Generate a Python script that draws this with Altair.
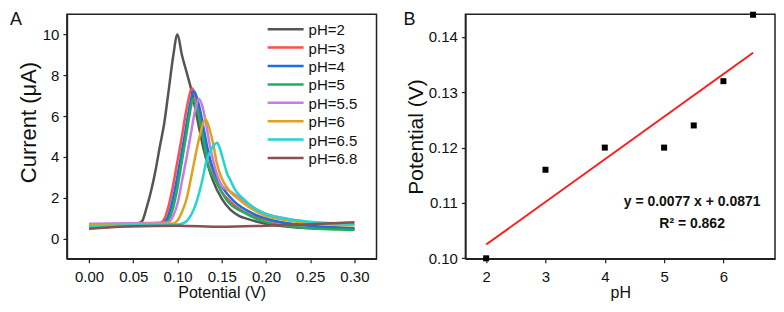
import altair as alt
import pandas as pd

# ---------------- Panel A data ----------------
labels = ["pH=2", "pH=3", "pH=4", "pH=5", "pH=5.5", "pH=6", "pH=6.5", "pH=6.8"]
colors = ["#555555", "#ff4d4d", "#1a6ee6", "#1fae5f", "#c77ce0", "#dfa21a", "#22d6cf", "#8b4f4f"]

ph2_x = [0.000, 0.020, 0.040, 0.055, 0.060, 0.065, 0.070, 0.075, 0.080, 0.085, 0.090, 0.095, 0.100,
         0.105, 0.110, 0.115, 0.120, 0.125, 0.130, 0.135, 0.140, 0.150, 0.160, 0.170, 0.180, 0.200,
         0.220, 0.250, 0.300]
ph2_y = [0.50, 0.56, 0.63, 0.72, 0.85, 1.50, 2.30, 3.30, 4.50, 5.65, 7.25, 8.90, 10.0,
         9.00, 8.20, 7.40, 6.40, 5.30, 4.30, 3.50, 2.85, 1.95, 1.40, 1.10, 0.95, 0.72,
         0.60, 0.50, 0.45]

ph3_x = [0.000, 0.040, 0.080, 0.085, 0.090, 0.095, 0.100, 0.105, 0.110, 0.1167, 0.120, 0.125,
         0.130, 0.135, 0.140, 0.145, 0.150, 0.160, 0.180, 0.200, 0.250, 0.300]
ph3_y = [0.65, 0.72, 0.76, 0.95, 1.60, 2.60, 3.80, 5.00, 6.30, 7.35, 7.00, 6.20,
         5.10, 4.10, 3.30, 2.75, 2.30, 1.80, 1.20, 0.92, 0.62, 0.50]

ph4_x = [0.000, 0.040, 0.083, 0.088, 0.093, 0.098, 0.103, 0.108, 0.113, 0.1186, 0.122, 0.126,
         0.130, 0.135, 0.140, 0.1466, 0.155, 0.163, 0.186, 0.200, 0.250, 0.300]
ph4_y = [0.62, 0.68, 0.75, 0.95, 1.60, 2.60, 3.80, 5.00, 6.30, 7.22, 6.90, 6.20,
         5.30, 4.20, 3.45, 2.84, 2.25, 1.86, 1.21, 0.98, 0.62, 0.50]

ph5_x = [0.000, 0.040, 0.085, 0.090, 0.095, 0.100, 0.105, 0.110, 0.115, 0.1175, 0.121, 0.125,
         0.130, 0.1336, 0.143, 0.156, 0.178, 0.200, 0.250, 0.300]
ph5_y = [0.55, 0.60, 0.65, 0.90, 1.50, 2.50, 3.80, 5.10, 6.40, 6.85, 6.50, 5.80,
         4.70, 3.80, 2.84, 1.86, 1.21, 0.80, 0.50, 0.42]

ph55_x = [0.000, 0.050, 0.090, 0.095, 0.100, 0.105, 0.110, 0.115, 0.120, 0.124, 0.128, 0.132,
          0.136, 0.140, 0.145, 0.150, 0.160, 0.175, 0.190, 0.200, 0.220, 0.250, 0.300]
ph55_y = [0.72, 0.75, 0.80, 1.10, 1.70, 2.80, 3.90, 5.10, 6.30, 6.85, 6.50, 5.70,
          4.70, 3.90, 3.10, 2.60, 2.30, 1.85, 1.40, 1.20, 1.00, 0.80, 0.70]

ph6_x = [0.000, 0.050, 0.095, 0.100, 0.105, 0.110, 0.115, 0.120, 0.125, 0.1317, 0.135, 0.140,
         0.145, 0.150, 0.155, 0.171, 0.190, 0.200, 0.220, 0.250, 0.300]
ph6_y = [0.65, 0.70, 0.74, 0.88, 1.30, 1.90, 2.90, 4.00, 5.00, 5.85, 5.55, 4.70,
         3.60, 2.95, 2.55, 1.86, 1.30, 1.10, 0.92, 0.75, 0.65]

ph65_x = [0.000, 0.050, 0.100, 0.105, 0.111, 0.116, 0.122, 0.128, 0.1328, 0.138, 0.1448, 0.148,
          0.152, 0.156, 0.160, 0.165, 0.1766, 0.190, 0.200, 0.220, 0.250, 0.300]
ph65_y = [0.60, 0.65, 0.68, 0.72, 0.88, 1.20, 1.86, 2.84, 3.82, 4.35, 4.69, 4.40,
          3.80, 3.20, 2.84, 2.40, 1.86, 1.40, 1.20, 0.98, 0.82, 0.72]

ph68_x = [0.000, 0.050, 0.100, 0.150, 0.200, 0.250, 0.300]
ph68_y = [0.48, 0.60, 0.63, 0.58, 0.63, 0.70, 0.80]

series_x = [ph2_x, ph3_x, ph4_x, ph5_x, ph55_x, ph6_x, ph65_x, ph68_x]
series_y = [ph2_y, ph3_y, ph4_y, ph5_y, ph55_y, ph6_y, ph65_y, ph68_y]

rows = []
for k, (lab, xs, ys) in enumerate(zip(labels, series_x, series_y)):
    for xv, yv in zip(xs, ys):
        rows.append({"series": lab, "order": k, "E": xv, "I": yv})
df_a = pd.DataFrame(rows)
df_leg = pd.DataFrame({"series": labels, "idx": list(range(len(labels)))})

# ---------------- Panel B data ----------------
ph_values = [2, 3, 4, 5, 5.5, 6, 6.5]
peak_potential = [0.100, 0.116, 0.120, 0.120, 0.124, 0.132, 0.144]
df_b = pd.DataFrame({"pH": ph_values, "E": peak_potential})

fit_lines = ["y = 0.0077 x + 0.0871", "R\u00b2 = 0.862"]
panel_labels = ["A", "B"]

FONT = "Liberation Sans"
W, H = 310, 245

color_enc = alt.Color("series:N", scale=alt.Scale(domain=labels, range=colors), legend=None)

# ---------------- Panel A ----------------
lines = alt.Chart(df_a).mark_line(strokeWidth=2.5, interpolate="monotone").encode(
    x=alt.X("E:Q",
            scale=alt.Scale(domain=[-0.025, 0.325], nice=False, zero=False),
            axis=alt.Axis(values=[0, 0.05, 0.10, 0.15, 0.20, 0.25, 0.30], format=".2f",
                          title="Potential (V)")),
    y=alt.Y("I:Q",
            scale=alt.Scale(domain=[-1, 11], nice=False, zero=False),
            axis=alt.Axis(values=[0, 2, 4, 6, 8, 10], title="Current (\u03bcA)",
                          titleFontSize=22, titleY=108)),
    color=color_enc,
    order=alt.Order("order:Q"),
)

leg_y = alt.Y("idx:Q", scale=alt.Scale(domain=[0, 7], range=[15, 144]), axis=None)
leg_rules = alt.Chart(df_leg).mark_rule(strokeWidth=2.5).encode(
    x=alt.value(201), x2=alt.value(237), y=leg_y, color=color_enc)
leg_text = alt.Chart(df_leg).mark_text(
    align="left", baseline="middle", fontSize=15, font=FONT, color="#111111", dy=1
).encode(x=alt.value(242), y=leg_y, text="series:N")

label_a = alt.Chart(df_leg.head(1)).mark_text(
    align="left", baseline="top", fontSize=18, font=FONT, color="#111111"
).encode(text=alt.value(panel_labels[0]), x=alt.value(-57), y=alt.value(-3))

panel_a = alt.layer(lines, leg_rules, leg_text, label_a).resolve_scale(
    y="independent").properties(width=W, height=H)

# ---------------- Panel B ----------------
xb = alt.X("pH:Q", scale=alt.Scale(domain=[1.65, 6.87], nice=False, zero=False),
           axis=alt.Axis(values=[2, 3, 4, 5, 6], title="pH"))
yb = alt.Y("E:Q", scale=alt.Scale(domain=[0.0999, 0.1441], nice=False, zero=False),
           axis=alt.Axis(values=[0.10, 0.11, 0.12, 0.13, 0.14], format=".2f",
                         title="Potential (V)"))

points = alt.Chart(df_b).mark_square(size=36, color="black", opacity=1).encode(x=xb, y=yb)
fit = alt.Chart(df_b).transform_regression("pH", "E").mark_line(
    color="#ff1a1a", strokeWidth=2).encode(x=xb, y=yb)

ann1 = alt.Chart(df_b.head(1)).mark_text(
    align="center", baseline="middle", fontSize=14, fontWeight="bold", font=FONT, color="#111111"
).encode(text=alt.value(fit_lines[0]), x=alt.value(227), y=alt.value(188))
ann2 = alt.Chart(df_b.head(1)).mark_text(
    align="center", baseline="middle", fontSize=14, fontWeight="bold", font=FONT, color="#111111"
).encode(text=alt.value(fit_lines[1]), x=alt.value(227), y=alt.value(210))

label_b = alt.Chart(df_b.head(1)).mark_text(
    align="left", baseline="top", fontSize=18, font=FONT, color="#111111"
).encode(text=alt.value(panel_labels[1]), x=alt.value(-62), y=alt.value(-3))

panel_b = alt.layer(fit, points, ann1, ann2, label_b).properties(width=W, height=H)

chart = alt.hconcat(panel_a, panel_b, spacing=25).properties(
    padding={"left": 1, "top": 2, "right": 0, "bottom": 0}
).configure(font=FONT).configure_view(
    stroke="#222222", strokeWidth=1.5
).configure_axis(
    grid=False, labelFont=FONT, titleFont=FONT, labelFontSize=15, titleFontSize=16,
    labelColor="#111111", titleColor="#111111", tickColor="#222222", domainColor="#222222",
    domainWidth=1.5, tickWidth=1.2, tickSize=4, labelPadding=7, titleFontWeight="normal",
    titlePadding=0
).configure_axisY(titleFontSize=21, titlePadding=2, labelPadding=4)

chart.save("out.html", embed_options={"renderer": "svg", "actions": False})
